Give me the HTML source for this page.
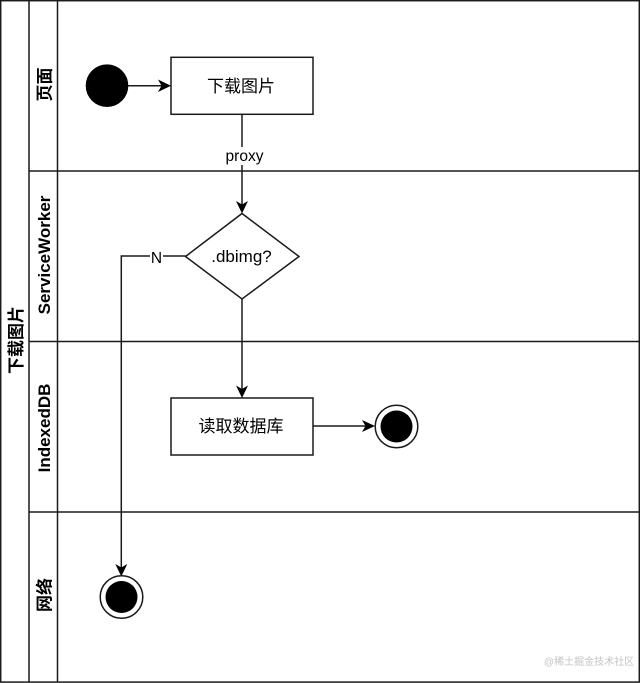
<!DOCTYPE html>
<html>
<head>
<meta charset="utf-8">
<style>
html,body{margin:0;padding:0;background:#fff;}
svg{display:block;}
text{font-family:"Liberation Sans","Noto Sans CJK SC",sans-serif;fill:#000;}
</style>
</head>
<body>
<svg width="640" height="683" viewBox="0 0 640 683" xmlns="http://www.w3.org/2000/svg">
<rect width="640" height="683" fill="#fff"/>
<g stroke="#1a1a1a" stroke-width="1.5" fill="none">
<rect x="0.7" y="0.7" width="638.6" height="681.4"/>
<path d="M29 1V682M57.5 1V682"/>
<path d="M29 171H639M29 341.5H639M29 512H639"/>
</g>
<circle cx="107" cy="85.7" r="21.3" fill="#000"/>
<g stroke="#1a1a1a" stroke-width="1.5" fill="#fff">
<rect x="171" y="57.3" width="142" height="57"/>
<rect x="171" y="398" width="142" height="57"/>
<path d="M242 213.5L299 256.5L242 299L185.5 256.5Z"/>
</g>
<g stroke="#1a1a1a" stroke-width="1.5" fill="none">
<path d="M128 85.7H165"/>
<path d="M242 114.5V207"/>
<path d="M242 299V392"/>
<path d="M313 426H369"/>
<path d="M185.5 256H121.3V570"/>
</g>
<g fill="#000">
<path d="M171 85.7L158 79.5L161.5 85.7L158 92Z"/>
<path d="M242 213.5L236 201L242 204.5L248 201Z"/>
<path d="M242 398L236 385.5L242 389L248 385.5Z"/>
<path d="M375 426L362 420L365.5 426L362 432Z"/>
<path d="M121.3 576.5L115.3 564L121.3 567.5L127.3 564Z"/>
</g>
<circle cx="396.5" cy="426.5" r="21.3" fill="#fff" stroke="#1a1a1a" stroke-width="1.5"/>
<circle cx="396.5" cy="426.5" r="16" fill="#000"/>
<circle cx="121.5" cy="597" r="21.3" fill="#fff" stroke="#1a1a1a" stroke-width="1.5"/>
<circle cx="121.5" cy="597" r="16" fill="#000"/>
<rect x="223" y="147" width="43" height="18" fill="#fff"/>
<rect x="150" y="249" width="13" height="15" fill="#fff"/>
<text x="241" y="92" font-size="17" text-anchor="middle">下载图片</text>
<text x="241" y="432" font-size="17" text-anchor="middle">读取数据库</text>
<text x="241.5" y="262" font-size="17" text-anchor="middle">.dbimg?</text>
<text x="244.5" y="161" font-size="15.5" text-anchor="middle">proxy</text>
<text x="156.5" y="263" font-size="15.5" text-anchor="middle">N</text>
<g font-size="17" font-weight="bold" text-anchor="middle">
<text transform="translate(22,340) rotate(-90)">下载图片</text>
<text transform="translate(50.5,84.5) rotate(-90)">页面</text>
<text transform="translate(50,255) rotate(-90)">ServiceWorker</text>
<text transform="translate(50,428) rotate(-90)">IndexedDB</text>
<text transform="translate(50.5,595) rotate(-90)">网络</text>
</g>
<text x="589" y="665" font-size="10" text-anchor="middle" style="fill:#c4c4c4">@稀土掘金技术社区</text>
</svg>
</body>
</html>
